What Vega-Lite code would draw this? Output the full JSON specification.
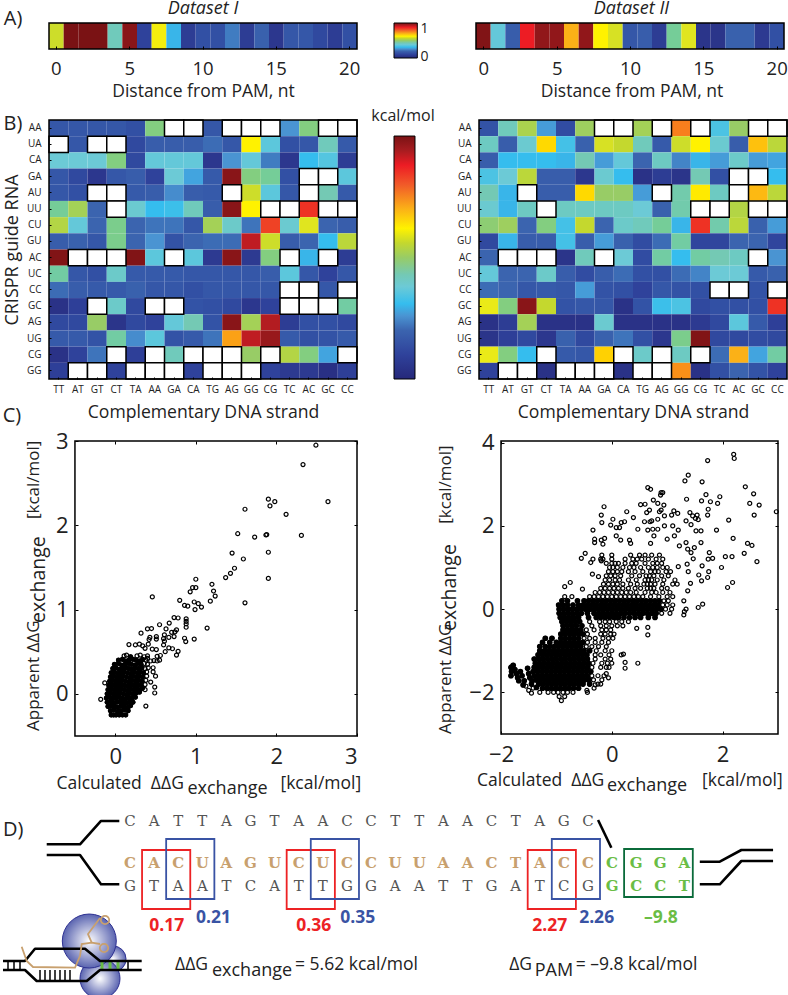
{"$schema":"https://vega.github.io/schema/vega-lite/v6.json","padding":{"left":0,"top":0,"right":0,"bottom":0},"background":"white","config":{"view":{"stroke":null},"axis":{"domain":false,"grid":false,"labelFont":"Open Sans","titleFont":"Open Sans","titleFontWeight":"normal","labelColor":"#222","titleColor":"#222","tickColor":"black"},"text":{"font":"Open Sans","fill":"#222"}},
"columns":6,"bounds":"flush","spacing":{"row":62,"column":0},"resolve":{"scale":{"color":"independent"}},
"datasets":{
"h1":[{"r":"AA","c":"TT","v":-0.2},{"r":"AA","c":"AT","v":-0.2},{"r":"AA","c":"GT","v":-0.2},{"r":"AA","c":"CT","v":-0.2},{"r":"AA","c":"TA","v":-0.3},{"r":"AA","c":"AA","v":1.4},{"r":"AA","c":"GA","v":null},{"r":"AA","c":"CA","v":null},{"r":"AA","c":"TG","v":-0.2},{"r":"AA","c":"AG","v":null},{"r":"AA","c":"GG","v":null},{"r":"AA","c":"CG","v":null},{"r":"AA","c":"TC","v":0.3},{"r":"AA","c":"AC","v":1.4},{"r":"AA","c":"GC","v":null},{"r":"AA","c":"CC","v":null},
{"r":"UA","c":"TT","v":null},{"r":"UA","c":"AT","v":-0.2},{"r":"UA","c":"GT","v":null},{"r":"UA","c":"CT","v":null},{"r":"UA","c":"TA","v":-0.4},{"r":"UA","c":"AA","v":-0.1},{"r":"UA","c":"GA","v":-0.1},{"r":"UA","c":"CA","v":-0.1},{"r":"UA","c":"TG","v":0.05},{"r":"UA","c":"AG","v":-0.2},{"r":"UA","c":"GG","v":2.1},{"r":"UA","c":"CG","v":0.8},{"r":"UA","c":"TC","v":-0.3},{"r":"UA","c":"AC","v":-0.2},{"r":"UA","c":"GC","v":1.1},{"r":"UA","c":"CC","v":-0.15},
{"r":"CA","c":"TT","v":0.9},{"r":"CA","c":"AT","v":0.9},{"r":"CA","c":"GT","v":0.9},{"r":"CA","c":"CT","v":1.4},{"r":"CA","c":"TA","v":-0.4},{"r":"CA","c":"AA","v":0.85},{"r":"CA","c":"GA","v":0.85},{"r":"CA","c":"CA","v":0.85},{"r":"CA","c":"TG","v":-0.7},{"r":"CA","c":"AG","v":0.3},{"r":"CA","c":"GG","v":0.85},{"r":"CA","c":"CG","v":0.15},{"r":"CA","c":"TC","v":-0.7},{"r":"CA","c":"AC","v":0.55},{"r":"CA","c":"GC","v":0.75},{"r":"CA","c":"CC","v":-0.6},
{"r":"GA","c":"TT","v":-0.2},{"r":"GA","c":"AT","v":-0.4},{"r":"GA","c":"GT","v":-0.7},{"r":"GA","c":"CT","v":-0.2},{"r":"GA","c":"TA","v":-0.1},{"r":"GA","c":"AA","v":-0.5},{"r":"GA","c":"GA","v":0.9},{"r":"GA","c":"CA","v":0.4},{"r":"GA","c":"TG","v":-0.15},{"r":"GA","c":"AG","v":3.9},{"r":"GA","c":"GG","v":1.4},{"r":"GA","c":"CG","v":1.3},{"r":"GA","c":"TC","v":-0.3},{"r":"GA","c":"AC","v":null},{"r":"GA","c":"GC","v":null},{"r":"GA","c":"CC","v":0.8},
{"r":"AU","c":"TT","v":-0.2},{"r":"AU","c":"AT","v":-0.3},{"r":"AU","c":"GT","v":null},{"r":"AU","c":"CT","v":null},{"r":"AU","c":"TA","v":-0.15},{"r":"AU","c":"AA","v":-0.1},{"r":"AU","c":"GA","v":0.25},{"r":"AU","c":"CA","v":-0.1},{"r":"AU","c":"TG","v":-0.15},{"r":"AU","c":"AG","v":null},{"r":"AU","c":"GG","v":1.85},{"r":"AU","c":"CG","v":0.8},{"r":"AU","c":"TC","v":-0.2},{"r":"AU","c":"AC","v":null},{"r":"AU","c":"GC","v":1.15},{"r":"AU","c":"CC","v":-0.15},
{"r":"UU","c":"TT","v":1.3},{"r":"UU","c":"AT","v":1.6},{"r":"UU","c":"GT","v":0},{"r":"UU","c":"CT","v":null},{"r":"UU","c":"TA","v":0.95},{"r":"UU","c":"AA","v":0.55},{"r":"UU","c":"GA","v":0.6},{"r":"UU","c":"CA","v":1.1},{"r":"UU","c":"TG","v":-0.1},{"r":"UU","c":"AG","v":3.9},{"r":"UU","c":"GG","v":2.1},{"r":"UU","c":"CG","v":null},{"r":"UU","c":"TC","v":null},{"r":"UU","c":"AC","v":3.3},{"r":"UU","c":"GC","v":null},{"r":"UU","c":"CC","v":null},
{"r":"CU","c":"TT","v":1.7},{"r":"CU","c":"AT","v":0.85},{"r":"CU","c":"GT","v":0},{"r":"CU","c":"CT","v":1.35},{"r":"CU","c":"TA","v":0},{"r":"CU","c":"AA","v":0.1},{"r":"CU","c":"GA","v":0.1},{"r":"CU","c":"CA","v":-0.2},{"r":"CU","c":"TG","v":1.6},{"r":"CU","c":"AG","v":1.0},{"r":"CU","c":"GG","v":0.1},{"r":"CU","c":"CG","v":3.2},{"r":"CU","c":"TC","v":0.95},{"r":"CU","c":"AC","v":1.95},{"r":"CU","c":"GC","v":0},{"r":"CU","c":"CC","v":-0.1},
{"r":"GU","c":"TT","v":-0.1},{"r":"GU","c":"AT","v":-0.05},{"r":"GU","c":"GT","v":-0.2},{"r":"GU","c":"CT","v":1.35},{"r":"GU","c":"TA","v":0},{"r":"GU","c":"AA","v":0.3},{"r":"GU","c":"GA","v":-0.25},{"r":"GU","c":"CA","v":0},{"r":"GU","c":"TG","v":0.05},{"r":"GU","c":"AG","v":0.05},{"r":"GU","c":"GG","v":3.6},{"r":"GU","c":"CG","v":1.85},{"r":"GU","c":"TC","v":-0.1},{"r":"GU","c":"AC","v":0},{"r":"GU","c":"GC","v":0.55},{"r":"GU","c":"CC","v":1.75},
{"r":"AC","c":"TT","v":3.95},{"r":"AC","c":"AT","v":null},{"r":"AC","c":"GT","v":null},{"r":"AC","c":"CT","v":null},{"r":"AC","c":"TA","v":3.95},{"r":"AC","c":"AA","v":0.8},{"r":"AC","c":"GA","v":null},{"r":"AC","c":"CA","v":0.8},{"r":"AC","c":"TG","v":-0.65},{"r":"AC","c":"AG","v":3.9},{"r":"AC","c":"GG","v":-0.65},{"r":"AC","c":"CG","v":1.4},{"r":"AC","c":"TC","v":null},{"r":"AC","c":"AC","v":0.5},{"r":"AC","c":"GC","v":null},{"r":"AC","c":"CC","v":-0.6},
{"r":"UC","c":"TT","v":1.25},{"r":"UC","c":"AT","v":-0.2},{"r":"UC","c":"GT","v":-0.3},{"r":"UC","c":"CT","v":1.0},{"r":"UC","c":"TA","v":-0.15},{"r":"UC","c":"AA","v":-0.15},{"r":"UC","c":"GA","v":-0.15},{"r":"UC","c":"CA","v":-0.2},{"r":"UC","c":"TG","v":-0.2},{"r":"UC","c":"AG","v":-0.2},{"r":"UC","c":"GG","v":-0.2},{"r":"UC","c":"CG","v":-0.1},{"r":"UC","c":"TC","v":0.8},{"r":"UC","c":"AC","v":-0.2},{"r":"UC","c":"GC","v":-0.5},{"r":"UC","c":"CC","v":-0.2},
{"r":"CC","c":"TT","v":0.05},{"r":"CC","c":"AT","v":-0.1},{"r":"CC","c":"GT","v":-0.15},{"r":"CC","c":"CT","v":-0.15},{"r":"CC","c":"TA","v":-0.05},{"r":"CC","c":"AA","v":-0.2},{"r":"CC","c":"GA","v":-0.2},{"r":"CC","c":"CA","v":-0.3},{"r":"CC","c":"TG","v":-0.2},{"r":"CC","c":"AG","v":-0.2},{"r":"CC","c":"GG","v":-0.2},{"r":"CC","c":"CG","v":-0.2},{"r":"CC","c":"TC","v":null},{"r":"CC","c":"AC","v":null},{"r":"CC","c":"GC","v":-0.2},{"r":"CC","c":"CC","v":null},
{"r":"GC","c":"TT","v":-0.8},{"r":"GC","c":"AT","v":-0.55},{"r":"GC","c":"GT","v":null},{"r":"GC","c":"CT","v":1.0},{"r":"GC","c":"TA","v":-0.4},{"r":"GC","c":"AA","v":null},{"r":"GC","c":"GA","v":null},{"r":"GC","c":"CA","v":-0.25},{"r":"GC","c":"TG","v":-0.3},{"r":"GC","c":"AG","v":-0.4},{"r":"GC","c":"GG","v":-0.7},{"r":"GC","c":"CG","v":-0.5},{"r":"GC","c":"TC","v":null},{"r":"GC","c":"AC","v":null},{"r":"GC","c":"GC","v":null},{"r":"GC","c":"CC","v":1.25},
{"r":"AG","c":"TT","v":-0.4},{"r":"AG","c":"AT","v":-0.4},{"r":"AG","c":"GT","v":1.5},{"r":"AG","c":"CT","v":-0.75},{"r":"AG","c":"TA","v":-0.4},{"r":"AG","c":"AA","v":-0.5},{"r":"AG","c":"GA","v":0.85},{"r":"AG","c":"CA","v":1.15},{"r":"AG","c":"TG","v":-0.25},{"r":"AG","c":"AG","v":3.9},{"r":"AG","c":"GG","v":1.6},{"r":"AG","c":"CG","v":3.65},{"r":"AG","c":"TC","v":-0.6},{"r":"AG","c":"AC","v":-0.3},{"r":"AG","c":"GC","v":-0.3},{"r":"AG","c":"CC","v":-0.4},
{"r":"UG","c":"TT","v":-0.15},{"r":"UG","c":"AT","v":-0.15},{"r":"UG","c":"GT","v":-0.25},{"r":"UG","c":"CT","v":1.25},{"r":"UG","c":"TA","v":0.25},{"r":"UG","c":"AA","v":0.8},{"r":"UG","c":"GA","v":-0.25},{"r":"UG","c":"CA","v":-0.15},{"r":"UG","c":"TG","v":0.1},{"r":"UG","c":"AG","v":2.6},{"r":"UG","c":"GG","v":3.6},{"r":"UG","c":"CG","v":3.8},{"r":"UG","c":"TC","v":-0.15},{"r":"UG","c":"AC","v":-0.3},{"r":"UG","c":"GC","v":-0.25},{"r":"UG","c":"CC","v":-0.15},
{"r":"CG","c":"TT","v":-0.8},{"r":"CG","c":"AT","v":-0.5},{"r":"CG","c":"GT","v":0.1},{"r":"CG","c":"CT","v":null},{"r":"CG","c":"TA","v":-0.55},{"r":"CG","c":"AA","v":null},{"r":"CG","c":"GA","v":1.1},{"r":"CG","c":"CA","v":null},{"r":"CG","c":"TG","v":null},{"r":"CG","c":"AG","v":null},{"r":"CG","c":"GG","v":1.5},{"r":"CG","c":"CG","v":null},{"r":"CG","c":"TC","v":1.7},{"r":"CG","c":"AC","v":1.4},{"r":"CG","c":"GC","v":0.4},{"r":"CG","c":"CC","v":null},
{"r":"GG","c":"TT","v":-0.55},{"r":"GG","c":"AT","v":null},{"r":"GG","c":"GT","v":null},{"r":"GG","c":"CT","v":-0.5},{"r":"GG","c":"TA","v":null},{"r":"GG","c":"AA","v":null},{"r":"GG","c":"GA","v":null},{"r":"GG","c":"CA","v":-0.5},{"r":"GG","c":"TG","v":null},{"r":"GG","c":"AG","v":null},{"r":"GG","c":"GG","v":null},{"r":"GG","c":"CG","v":-0.5},{"r":"GG","c":"TC","v":-0.65},{"r":"GG","c":"AC","v":-0.65},{"r":"GG","c":"GC","v":-0.85},{"r":"GG","c":"CC","v":-0.55}],
"h2":[{"r":"AA","c":"TT","v":-0.25},{"r":"AA","c":"AT","v":1.1},{"r":"AA","c":"GT","v":1.65},{"r":"AA","c":"CT","v":0.35},{"r":"AA","c":"TA","v":-0.35},{"r":"AA","c":"AA","v":1.55},{"r":"AA","c":"GA","v":null},{"r":"AA","c":"CA","v":null},{"r":"AA","c":"TG","v":1.6},{"r":"AA","c":"AG","v":null},{"r":"AA","c":"GG","v":2.8},{"r":"AA","c":"CG","v":null},{"r":"AA","c":"TC","v":0.7},{"r":"AA","c":"AC","v":1.5},{"r":"AA","c":"GC","v":null},{"r":"AA","c":"CC","v":null},
{"r":"UA","c":"TT","v":1.05},{"r":"UA","c":"AT","v":-0.1},{"r":"UA","c":"GT","v":0.95},{"r":"UA","c":"CT","v":2.25},{"r":"UA","c":"TA","v":0.65},{"r":"UA","c":"AA","v":-0.05},{"r":"UA","c":"GA","v":1.9},{"r":"UA","c":"CA","v":1.8},{"r":"UA","c":"TG","v":1.1},{"r":"UA","c":"AG","v":-0.15},{"r":"UA","c":"GG","v":1.85},{"r":"UA","c":"CG","v":2.1},{"r":"UA","c":"TC","v":0.95},{"r":"UA","c":"AC","v":-0.1},{"r":"UA","c":"GC","v":2.4},{"r":"UA","c":"CC","v":1.75},
{"r":"CA","c":"TT","v":-0.1},{"r":"CA","c":"AT","v":0.55},{"r":"CA","c":"GT","v":0.55},{"r":"CA","c":"CT","v":0.55},{"r":"CA","c":"TA","v":0.5},{"r":"CA","c":"AA","v":1.15},{"r":"CA","c":"GA","v":0.35},{"r":"CA","c":"CA","v":0.85},{"r":"CA","c":"TG","v":0},{"r":"CA","c":"AG","v":1.05},{"r":"CA","c":"GG","v":0.2},{"r":"CA","c":"CG","v":0.5},{"r":"CA","c":"TC","v":0.35},{"r":"CA","c":"AC","v":1.0},{"r":"CA","c":"GC","v":0.35},{"r":"CA","c":"CC","v":0.4},
{"r":"GA","c":"TT","v":0.7},{"r":"GA","c":"AT","v":0.9},{"r":"GA","c":"GT","v":1.75},{"r":"GA","c":"CT","v":-0.1},{"r":"GA","c":"TA","v":-0.1},{"r":"GA","c":"AA","v":-0.7},{"r":"GA","c":"GA","v":0.95},{"r":"GA","c":"CA","v":0.55},{"r":"GA","c":"TG","v":-0.8},{"r":"GA","c":"AG","v":-0.6},{"r":"GA","c":"GG","v":-0.75},{"r":"GA","c":"CG","v":1.15},{"r":"GA","c":"TC","v":-0.3},{"r":"GA","c":"AC","v":null},{"r":"GA","c":"GC","v":null},{"r":"GA","c":"CC","v":0.55},
{"r":"AU","c":"TT","v":1.15},{"r":"AU","c":"AT","v":0.5},{"r":"AU","c":"GT","v":null},{"r":"AU","c":"CT","v":-0.1},{"r":"AU","c":"TA","v":-0.1},{"r":"AU","c":"AA","v":2.25},{"r":"AU","c":"GA","v":1.5},{"r":"AU","c":"CA","v":1.5},{"r":"AU","c":"TG","v":0.35},{"r":"AU","c":"AG","v":null},{"r":"AU","c":"GG","v":1.2},{"r":"AU","c":"CG","v":2.15},{"r":"AU","c":"TC","v":1.05},{"r":"AU","c":"AC","v":null},{"r":"AU","c":"GC","v":2.45},{"r":"AU","c":"CC","v":1.75},
{"r":"UU","c":"TT","v":0.95},{"r":"UU","c":"AT","v":0.5},{"r":"UU","c":"GT","v":1.05},{"r":"UU","c":"CT","v":null},{"r":"UU","c":"TA","v":1.05},{"r":"UU","c":"AA","v":1.05},{"r":"UU","c":"GA","v":1.05},{"r":"UU","c":"CA","v":1.05},{"r":"UU","c":"TG","v":0.9},{"r":"UU","c":"AG","v":-0.05},{"r":"UU","c":"GG","v":1.2},{"r":"UU","c":"CG","v":null},{"r":"UU","c":"TC","v":null},{"r":"UU","c":"AC","v":1.7},{"r":"UU","c":"GC","v":null},{"r":"UU","c":"CC","v":null},
{"r":"CU","c":"TT","v":1.45},{"r":"CU","c":"AT","v":1.55},{"r":"CU","c":"GT","v":0},{"r":"CU","c":"CT","v":1.4},{"r":"CU","c":"TA","v":0.65},{"r":"CU","c":"AA","v":1.8},{"r":"CU","c":"GA","v":0},{"r":"CU","c":"CA","v":1.0},{"r":"CU","c":"TG","v":1.1},{"r":"CU","c":"AG","v":1.3},{"r":"CU","c":"GG","v":0.5},{"r":"CU","c":"CG","v":3.3},{"r":"CU","c":"TC","v":1.2},{"r":"CU","c":"AC","v":1.75},{"r":"CU","c":"GC","v":-0.05},{"r":"CU","c":"CC","v":0.35},
{"r":"GU","c":"TT","v":-0.4},{"r":"GU","c":"AT","v":0.5},{"r":"GU","c":"GT","v":-0.1},{"r":"GU","c":"CT","v":-0.1},{"r":"GU","c":"TA","v":0.65},{"r":"GU","c":"AA","v":-0.1},{"r":"GU","c":"GA","v":0.35},{"r":"GU","c":"CA","v":-0.05},{"r":"GU","c":"TG","v":-0.35},{"r":"GU","c":"AG","v":0.05},{"r":"GU","c":"GG","v":1.25},{"r":"GU","c":"CG","v":-0.45},{"r":"GU","c":"TC","v":-0.45},{"r":"GU","c":"AC","v":0},{"r":"GU","c":"GC","v":0},{"r":"GU","c":"CC","v":-0.45},
{"r":"AC","c":"TT","v":0},{"r":"AC","c":"AT","v":null},{"r":"AC","c":"GT","v":null},{"r":"AC","c":"CT","v":null},{"r":"AC","c":"TA","v":-0.75},{"r":"AC","c":"AA","v":1.1},{"r":"AC","c":"GA","v":null},{"r":"AC","c":"CA","v":0.9},{"r":"AC","c":"TG","v":-0.35},{"r":"AC","c":"AG","v":1.25},{"r":"AC","c":"GG","v":0.55},{"r":"AC","c":"CG","v":1.25},{"r":"AC","c":"TC","v":1.15},{"r":"AC","c":"AC","v":1.05},{"r":"AC","c":"GC","v":null},{"r":"AC","c":"CC","v":0.3},
{"r":"UC","c":"TT","v":0.85},{"r":"UC","c":"AT","v":0},{"r":"UC","c":"GT","v":0},{"r":"UC","c":"CT","v":1.0},{"r":"UC","c":"TA","v":-0.1},{"r":"UC","c":"AA","v":-0.35},{"r":"UC","c":"GA","v":-0.1},{"r":"UC","c":"CA","v":0.05},{"r":"UC","c":"TG","v":-0.3},{"r":"UC","c":"AG","v":-0.3},{"r":"UC","c":"GG","v":0.05},{"r":"UC","c":"CG","v":0.2},{"r":"UC","c":"TC","v":0.9},{"r":"UC","c":"AC","v":0.9},{"r":"UC","c":"GC","v":-0.15},{"r":"UC","c":"CC","v":-0.05},
{"r":"CC","c":"TT","v":0.05},{"r":"CC","c":"AT","v":0},{"r":"CC","c":"GT","v":-0.2},{"r":"CC","c":"CT","v":-0.15},{"r":"CC","c":"TA","v":-0.2},{"r":"CC","c":"AA","v":0.35},{"r":"CC","c":"GA","v":-0.25},{"r":"CC","c":"CA","v":-0.3},{"r":"CC","c":"TG","v":-0.5},{"r":"CC","c":"AG","v":-0.2},{"r":"CC","c":"GG","v":-0.25},{"r":"CC","c":"CG","v":-0.3},{"r":"CC","c":"TC","v":null},{"r":"CC","c":"AC","v":null},{"r":"CC","c":"GC","v":-0.25},{"r":"CC","c":"CC","v":null},
{"r":"GC","c":"TT","v":2.0},{"r":"GC","c":"AT","v":1.4},{"r":"GC","c":"GT","v":3.9},{"r":"GC","c":"CT","v":1.8},{"r":"GC","c":"TA","v":-0.25},{"r":"GC","c":"AA","v":-0.2},{"r":"GC","c":"GA","v":-0.2},{"r":"GC","c":"CA","v":-0.8},{"r":"GC","c":"TG","v":-0.25},{"r":"GC","c":"AG","v":0.6},{"r":"GC","c":"GG","v":0.7},{"r":"GC","c":"CG","v":-0.4},{"r":"GC","c":"TC","v":-0.3},{"r":"GC","c":"AC","v":-0.3},{"r":"GC","c":"GC","v":-0.3},{"r":"GC","c":"CC","v":3.3},
{"r":"AG","c":"TT","v":-0.8},{"r":"AG","c":"AT","v":-0.6},{"r":"AG","c":"GT","v":1.6},{"r":"AG","c":"CT","v":-0.8},{"r":"AG","c":"TA","v":-0.8},{"r":"AG","c":"AA","v":-0.8},{"r":"AG","c":"GA","v":0.95},{"r":"AG","c":"CA","v":-0.8},{"r":"AG","c":"TG","v":-0.8},{"r":"AG","c":"AG","v":-0.8},{"r":"AG","c":"GG","v":-0.8},{"r":"AG","c":"CG","v":-0.65},{"r":"AG","c":"TC","v":-0.4},{"r":"AG","c":"AC","v":0.8},{"r":"AG","c":"GC","v":-0.15},{"r":"AG","c":"CC","v":-0.55},
{"r":"UG","c":"TT","v":-0.75},{"r":"UG","c":"AT","v":-0.55},{"r":"UG","c":"GT","v":-0.4},{"r":"UG","c":"CT","v":-0.7},{"r":"UG","c":"TA","v":-0.05},{"r":"UG","c":"AA","v":-0.4},{"r":"UG","c":"GA","v":-0.05},{"r":"UG","c":"CA","v":0.1},{"r":"UG","c":"TG","v":-0.3},{"r":"UG","c":"AG","v":-0.7},{"r":"UG","c":"GG","v":1.35},{"r":"UG","c":"CG","v":3.95},{"r":"UG","c":"TC","v":-0.4},{"r":"UG","c":"AC","v":-0.4},{"r":"UG","c":"GC","v":-0.35},{"r":"UG","c":"CC","v":-0.4},
{"r":"CG","c":"TT","v":2.0},{"r":"CG","c":"AT","v":1.4},{"r":"CG","c":"GT","v":0.55},{"r":"CG","c":"CT","v":null},{"r":"CG","c":"TA","v":-0.15},{"r":"CG","c":"AA","v":-0.2},{"r":"CG","c":"GA","v":2.3},{"r":"CG","c":"CA","v":null},{"r":"CG","c":"TG","v":1.0},{"r":"CG","c":"AG","v":null},{"r":"CG","c":"GG","v":1.05},{"r":"CG","c":"CG","v":null},{"r":"CG","c":"TC","v":0.05},{"r":"CG","c":"AC","v":2.5},{"r":"CG","c":"GC","v":0.4},{"r":"CG","c":"CC","v":1.25},
{"r":"GG","c":"TT","v":-0.5},{"r":"GG","c":"AT","v":null},{"r":"GG","c":"GT","v":null},{"r":"GG","c":"CT","v":-0.8},{"r":"GG","c":"TA","v":null},{"r":"GG","c":"AA","v":null},{"r":"GG","c":"GA","v":null},{"r":"GG","c":"CA","v":-0.8},{"r":"GG","c":"TG","v":null},{"r":"GG","c":"AG","v":null},{"r":"GG","c":"GG","v":2.7},{"r":"GG","c":"CG","v":-0.8},{"r":"GG","c":"TC","v":-0.3},{"r":"GG","c":"AC","v":0},{"r":"GG","c":"GC","v":-0.25},{"r":"GG","c":"CC","v":-0.5}],
"s1":[{"x":2.49,"y":2.95},{"x":2.33,"y":2.72},{"x":2.64,"y":2.28},{"x":1.9,"y":2.31},{"x":1.98,"y":2.28},{"x":1.92,"y":2.23},{"x":2.12,"y":2.13},{"x":1.61,"y":2.19},{"x":1.52,"y":1.9},{"x":1.73,"y":1.86},{"x":1.87,"y":1.885},{"x":1.88,"y":1.89},{"x":2.31,"y":1.88},{"x":1.9,"y":1.68},{"x":1.45,"y":1.67},{"x":1.59,"y":1.6},{"x":1.48,"y":1.49},{"x":1.43,"y":1.43},{"x":1.37,"y":1.38},{"x":1.9,"y":1.37},{"x":1.61,"y":1.08},{"x":1,"y":1.36},{"x":1.2,"y":1.3},{"x":1,"y":1.26},{"x":0.96,"y":1.26},{"x":0.93,"y":1.21},{"x":1.22,"y":1.22},{"x":1.24,"y":1.16},{"x":0.46,"y":1.15},{"x":0.8,"y":1.11},{"x":1.18,"y":1.1},{"x":0.98,"y":1.09},{"x":1.03,"y":1.07},{"x":0.86,"y":1.05},{"x":0.9,"y":1.04},{"x":1.07,"y":1.03},{"x":0.99,"y":1},{"x":0.73,"y":0.905},{"x":0.78,"y":0.9},{"x":0.88,"y":0.89},{"x":0.88,"y":0.86},{"x":0.88,"y":0.83},{"x":0.88,"y":0.79},{"x":0.67,"y":0.84},{"x":0.55,"y":0.82},{"x":1.14,"y":0.78},{"x":0.4,"y":0.77},{"x":0.45,"y":0.775},{"x":0.63,"y":0.77},{"x":0.76,"y":0.76},{"x":0.74,"y":0.735},{"x":0.7,"y":0.73},{"x":0.32,"y":0.72},{"x":0.61,"y":0.7},{"x":0.43,"y":0.67},{"x":0.51,"y":0.68},{"x":0.51,"y":0.65},{"x":0.73,"y":0.68},{"x":0.665,"y":0.67},{"x":0.6,"y":0.655},{"x":0.86,"y":0.66},{"x":0.98,"y":0.65},{"x":0.875,"y":0.62},{"x":0.17,"y":0.585},{"x":0.25,"y":0.58},{"x":0.3,"y":0.59},{"x":0.34,"y":0.57},{"x":0.37,"y":0.54},{"x":0.41,"y":0.59},{"x":0.46,"y":0.53},{"x":0.51,"y":0.525},{"x":0.61,"y":0.625},{"x":0.6,"y":0.58},{"x":0.665,"y":0.545},{"x":0.71,"y":0.535},{"x":0.78,"y":0.505},{"x":0.76,"y":0.46},{"x":0.62,"y":0.5},{"x":0.42,"y":0.645},{"x":0.56,"y":0.455},{"x":0.52,"y":0.445},{"x":0.48,"y":0.395},{"x":0.44,"y":0.39},{"x":0.55,"y":0.4},{"x":0.52,"y":0.39},{"x":0.47,"y":0.31},{"x":0.47,"y":0.26},{"x":0.5,"y":0.21},{"x":0.44,"y":0.14},{"x":0.49,"y":0.08},{"x":0.49,"y":0.01},{"x":0.38,"y":-0.145},{"x":0.37,"y":0.05},{"x":-0.18,"y":-0.065},{"x":-0.13,"y":0.13},
{"x":-0.05,"y":-0.25},{"x":-0.02,"y":-0.25},{"x":0.01,"y":-0.25},{"x":0.05,"y":-0.25},{"x":0.09,"y":-0.25},{"x":0.13,"y":-0.25},{"x":-0.06,"y":-0.2},{"x":-0.02,"y":-0.19},{"x":0.03,"y":-0.21},{"x":0.07,"y":-0.2},{"x":0.11,"y":-0.19},{"x":0.16,"y":-0.2},{"x":-0.09,"y":-0.15},{"x":-0.05,"y":-0.14},{"x":-0.01,"y":-0.15},{"x":0.03,"y":-0.16},{"x":0.07,"y":-0.14},{"x":0.11,"y":-0.15},{"x":0.16,"y":-0.16},{"x":0.19,"y":-0.14},{"x":-0.1,"y":-0.1},{"x":-0.06,"y":-0.09},{"x":-0.02,"y":-0.11},{"x":0.02,"y":-0.1},{"x":0.06,"y":-0.09},{"x":0.1,"y":-0.1},{"x":0.14,"y":-0.11},{"x":0.18,"y":-0.09},{"x":0.22,"y":-0.1},{"x":-0.11,"y":-0.05},{"x":-0.07,"y":-0.04},{"x":-0.03,"y":-0.06},{"x":0.01,"y":-0.05},{"x":0.05,"y":-0.04},{"x":0.09,"y":-0.05},{"x":0.13,"y":-0.06},{"x":0.17,"y":-0.04},{"x":0.21,"y":-0.05},{"x":0.25,"y":-0.04},{"x":-0.1,"y":0},{"x":-0.06,"y":0.01},{"x":-0.02,"y":-0.01},{"x":0.02,"y":0},{"x":0.06,"y":0.01},{"x":0.1,"y":0},{"x":0.14,"y":-0.01},{"x":0.18,"y":0.01},{"x":0.22,"y":0},{"x":0.26,"y":0.01},{"x":0.3,"y":0.02},{"x":-0.09,"y":0.05},{"x":-0.05,"y":0.06},{"x":-0.01,"y":0.04},{"x":0.03,"y":0.05},{"x":0.07,"y":0.06},{"x":0.11,"y":0.05},{"x":0.15,"y":0.04},{"x":0.19,"y":0.06},{"x":0.23,"y":0.05},{"x":0.27,"y":0.06},{"x":0.31,"y":0.05},{"x":0.34,"y":0.07},{"x":-0.08,"y":0.1},{"x":-0.04,"y":0.11},{"x":0,"y":0.09},{"x":0.04,"y":0.1},{"x":0.08,"y":0.11},{"x":0.12,"y":0.1},{"x":0.16,"y":0.09},{"x":0.2,"y":0.11},{"x":0.24,"y":0.1},{"x":0.28,"y":0.11},{"x":0.32,"y":0.1},{"x":0.37,"y":0.11},{"x":-0.07,"y":0.15},{"x":-0.03,"y":0.16},{"x":0.01,"y":0.14},{"x":0.05,"y":0.15},{"x":0.09,"y":0.16},{"x":0.13,"y":0.15},{"x":0.17,"y":0.14},{"x":0.21,"y":0.16},{"x":0.25,"y":0.15},{"x":0.29,"y":0.16},{"x":0.33,"y":0.15},{"x":0.38,"y":0.16},{"x":-0.06,"y":0.2},{"x":-0.02,"y":0.21},{"x":0.02,"y":0.19},{"x":0.06,"y":0.2},{"x":0.1,"y":0.21},{"x":0.14,"y":0.2},{"x":0.18,"y":0.19},{"x":0.22,"y":0.21},{"x":0.26,"y":0.2},{"x":0.3,"y":0.21},{"x":0.34,"y":0.2},{"x":0.39,"y":0.21},{"x":-0.05,"y":0.25},{"x":-0.01,"y":0.26},{"x":0.03,"y":0.24},{"x":0.07,"y":0.25},{"x":0.11,"y":0.26},{"x":0.15,"y":0.25},{"x":0.19,"y":0.24},{"x":0.23,"y":0.26},{"x":0.27,"y":0.25},{"x":0.31,"y":0.26},{"x":0.35,"y":0.25},{"x":0.39,"y":0.26},{"x":-0.03,"y":0.3},{"x":0.01,"y":0.31},{"x":0.05,"y":0.29},{"x":0.09,"y":0.3},{"x":0.13,"y":0.31},{"x":0.17,"y":0.3},{"x":0.21,"y":0.29},{"x":0.25,"y":0.31},{"x":0.29,"y":0.3},{"x":0.33,"y":0.31},{"x":0.37,"y":0.3},{"x":0.41,"y":0.31},{"x":-0.01,"y":0.35},{"x":0.04,"y":0.36},{"x":0.08,"y":0.34},{"x":0.12,"y":0.35},{"x":0.16,"y":0.36},{"x":0.2,"y":0.35},{"x":0.24,"y":0.34},{"x":0.28,"y":0.36},{"x":0.32,"y":0.35},{"x":0.36,"y":0.36},{"x":0.4,"y":0.35},{"x":0.04,"y":0.4},{"x":0.09,"y":0.41},{"x":0.13,"y":0.39},{"x":0.17,"y":0.4},{"x":0.22,"y":0.41},{"x":0.26,"y":0.4},{"x":0.3,"y":0.39},{"x":0.34,"y":0.41},{"x":0.38,"y":0.4},{"x":0.4,"y":0.42},{"x":0.11,"y":0.45},{"x":0.14,"y":0.46},{"x":0.19,"y":0.44},{"x":0.27,"y":0.45},{"x":0.31,"y":0.46},{"x":0.36,"y":0.44},{"x":0.4,"y":0.45}],
"s2":[{"x":2.2,"y":3.72},{"x":2.21,"y":3.62},{"x":1.73,"y":3.57},{"x":1.38,"y":3.22},{"x":1.32,"y":3.08},{"x":1.63,"y":3.06},{"x":0.65,"y":2.92},{"x":0.7,"y":2.88},{"x":2.41,"y":2.94},{"x":2.56,"y":2.77},{"x":1.7,"y":2.75},{"x":1.95,"y":2.7},{"x":0.89,"y":2.8},{"x":0.92,"y":2.8},{"x":0.88,"y":2.74},{"x":0.6,"y":2.52},{"x":0.75,"y":2.62},{"x":-0.14,"y":2.46},{"x":-0.19,"y":2.26},{"x":-0.18,"y":2.08},{"x":1.35,"y":2.64},{"x":1.62,"y":2.6},{"x":1.78,"y":2.58},{"x":1.91,"y":2.54},{"x":2.49,"y":2.54},{"x":2.66,"y":2.5},{"x":2.97,"y":2.34},{"x":2.57,"y":2.26},{"x":1.74,"y":2.4},{"x":1.73,"y":2.26},{"x":1.41,"y":2.32},{"x":1.46,"y":2.24},{"x":1.54,"y":2.26},{"x":1.51,"y":2.18},{"x":1.56,"y":2.15},{"x":1.34,"y":2.12},{"x":1.43,"y":2.03},{"x":0.27,"y":2.34},{"x":0.02,"y":2.16},{"x":0.39,"y":2.2},{"x":0.17,"y":2.08},{"x":0.23,"y":2.1},{"x":-0.02,"y":2.02},{"x":0.08,"y":1.96},{"x":0.14,"y":1.96},{"x":0.47,"y":1.92},{"x":-0.34,"y":1.9},{"x":0.59,"y":2.1},{"x":0.69,"y":2.1},{"x":0.52,"y":2.51},{"x":0.68,"y":2.38},{"x":0.63,"y":2.32},{"x":0.86,"y":2.34},{"x":0.94,"y":2.5},{"x":0.83,"y":2.54},{"x":0.89,"y":2.38},{"x":0.95,"y":2.24},{"x":1.08,"y":2.26},{"x":1.19,"y":2.3},{"x":1.12,"y":2.36},{"x":0.83,"y":2.16},{"x":0.72,"y":2.12},{"x":2.11,"y":2.14},{"x":1.89,"y":1.9},{"x":2.19,"y":1.7},{"x":1.52,"y":1.88},{"x":1.61,"y":1.88},{"x":1.1,"y":2},{"x":1.2,"y":1.9},{"x":1.13,"y":1.76},{"x":0.95,"y":2},{"x":0.65,"y":1.9},{"x":0.74,"y":1.92},{"x":0.83,"y":1.92},{"x":0.76,"y":1.76},{"x":0.08,"y":1.76},{"x":0.16,"y":1.66},{"x":-0.31,"y":1.68},{"x":-0.13,"y":1.7},{"x":-0.19,"y":1.66},{"x":-0.31,"y":1.6},{"x":-0.16,"y":1.56},{"x":0.32,"y":1.66},{"x":0.34,"y":1.58},{"x":0.7,"y":1.58},{"x":1,"y":1.68},{"x":1.22,"y":1.52},{"x":1.34,"y":1.6},{"x":1.61,"y":1.6},{"x":1.49,"y":1.48},{"x":1.37,"y":1.44},{"x":1.43,"y":1.36},{"x":1.76,"y":1.36},{"x":2.45,"y":1.58},{"x":2.53,"y":1.53},{"x":2.39,"y":1.34},{"x":2.17,"y":1.26},{"x":2.05,"y":1.26},{"x":2.62,"y":1.14},{"x":1.74,"y":1.2},{"x":1.82,"y":1.22},{"x":1.47,"y":1.21},{"x":1.2,"y":1.02},{"x":1.36,"y":1.08},{"x":1.63,"y":1.04},{"x":1.98,"y":1},{"x":1.38,"y":0.9},{"x":1.75,"y":0.9},{"x":1.73,"y":0.76},{"x":1.57,"y":0.82},{"x":1.62,"y":0.68},{"x":1.42,"y":0.62},{"x":2.09,"y":0.52},{"x":2.18,"y":0.64},{"x":1.37,"y":0.44},{"x":1.3,"y":0.2},{"x":1.64,"y":0.12},{"x":1.56,"y":0.04},{"x":1.34,"y":0},{"x":1.31,"y":-0.06},{"x":1.3,"y":-0.14},{"x":-0.55,"y":1.22},{"x":-0.48,"y":1.34},{"x":-0.34,"y":1.2},{"x":-0.38,"y":1.12},{"x":-0.19,"y":1.16},{"x":-0.35,"y":0.84},{"x":-0.24,"y":0.78},{"x":-0.85,"y":0.54},{"x":-0.75,"y":0.64},{"x":-0.53,"y":0.48},{"x":0.45,"y":-0.46},{"x":0.65,"y":-0.44},{"x":0.65,"y":-0.62},{"x":0.24,"y":-1.28},{"x":0.24,"y":-1.42},{"x":0.47,"y":-1.3},{"x":0.21,"y":-1.08},{"x":0.17,"y":-1.1},
{"x":-1.82,"y":-1.4},{"x":-1.81,"y":-1.5},{"x":-1.82,"y":-1.6},{"x":-1.78,"y":-1.35},{"x":-1.75,"y":-1.45},{"x":-1.72,"y":-1.55},{"x":-1.7,"y":-1.65},{"x":-1.65,"y":-1.5},{"x":-1.62,"y":-1.6},{"x":-1.58,"y":-1.72},{"x":-1.52,"y":-1.42},{"x":-1.5,"y":-1.55},{"x":-1.48,"y":-1.65},{"x":-1.44,"y":-1.72},{"x":-1.55,"y":-1.85},{"x":-1.5,"y":-1.95},{"x":-1.45,"y":-2.02},{"x":-1.36,"y":-1.88},{"x":-1.68,"y":-1.72},{"x":-1.6,"y":-1.82},{"x":-0.91,"y":-2.2},{"x":-0.45,"y":-1.95},{"x":-0.44,"y":-2},{"x":-0.32,"y":-1.9},{"x":-0.3,"y":-1.82},{"x":-0.2,"y":-1.8},{"x":-0.14,"y":-1.6},{"x":-0.1,"y":-1.55},{"x":-0.06,"y":-1.65},{"x":-0.18,"y":-1.7},{"x":-0.25,"y":-1.6},{"x":-0.05,"y":-1.4},{"x":0,"y":-1.3},
{"x":-0.95,"y":-2.1},{"x":-0.85,"y":-2.1},
{"x":-1.3,"y":-2},{"x":-1.15,"y":-2},{"x":-1.05,"y":-2},{"x":-0.97,"y":-2},{"x":-0.88,"y":-2},{"x":-0.8,"y":-2},{"x":-0.7,"y":-2},
{"x":-1.42,"y":-1.9},{"x":-1.25,"y":-1.9},{"x":-1.17,"y":-1.9},{"x":-1.09,"y":-1.9},{"x":-1.01,"y":-1.9},{"x":-0.93,"y":-1.9},{"x":-0.85,"y":-1.9},{"x":-0.77,"y":-1.9},{"x":-0.69,"y":-1.9},{"x":-0.6,"y":-1.9},
{"x":-1.45,"y":-1.8},{"x":-1.32,"y":-1.8},{"x":-1.24,"y":-1.8},{"x":-1.16,"y":-1.8},{"x":-1.08,"y":-1.8},{"x":-1,"y":-1.8},{"x":-0.92,"y":-1.8},{"x":-0.84,"y":-1.8},{"x":-0.76,"y":-1.8},{"x":-0.68,"y":-1.8},{"x":-0.6,"y":-1.8},{"x":-0.52,"y":-1.8},{"x":-0.4,"y":-1.8},{"x":-0.25,"y":-1.8},
{"x":-1.37,"y":-1.7},{"x":-1.29,"y":-1.7},{"x":-1.21,"y":-1.7},{"x":-1.13,"y":-1.7},{"x":-1.05,"y":-1.7},{"x":-0.97,"y":-1.7},{"x":-0.89,"y":-1.7},{"x":-0.81,"y":-1.7},{"x":-0.73,"y":-1.7},{"x":-0.65,"y":-1.7},{"x":-0.57,"y":-1.7},{"x":-0.49,"y":-1.7},{"x":-0.41,"y":-1.7},{"x":-0.33,"y":-1.7},
{"x":-1.4,"y":-1.6},{"x":-1.32,"y":-1.6},{"x":-1.24,"y":-1.6},{"x":-1.16,"y":-1.6},{"x":-1.08,"y":-1.6},{"x":-1,"y":-1.6},{"x":-0.92,"y":-1.6},{"x":-0.84,"y":-1.6},{"x":-0.76,"y":-1.6},{"x":-0.68,"y":-1.6},{"x":-0.6,"y":-1.6},{"x":-0.52,"y":-1.6},{"x":-0.44,"y":-1.6},{"x":-0.36,"y":-1.6},
{"x":-1.42,"y":-1.5},{"x":-1.34,"y":-1.5},{"x":-1.26,"y":-1.5},{"x":-1.18,"y":-1.5},{"x":-1.1,"y":-1.5},{"x":-1.02,"y":-1.5},{"x":-0.94,"y":-1.5},{"x":-0.86,"y":-1.5},{"x":-0.78,"y":-1.5},{"x":-0.7,"y":-1.5},{"x":-0.62,"y":-1.5},{"x":-0.54,"y":-1.5},{"x":-0.46,"y":-1.5},{"x":-0.38,"y":-1.5},
{"x":-1.4,"y":-1.4},{"x":-1.32,"y":-1.4},{"x":-1.24,"y":-1.4},{"x":-1.16,"y":-1.4},{"x":-1.08,"y":-1.4},{"x":-1,"y":-1.4},{"x":-0.92,"y":-1.4},{"x":-0.84,"y":-1.4},{"x":-0.76,"y":-1.4},{"x":-0.68,"y":-1.4},{"x":-0.6,"y":-1.4},{"x":-0.52,"y":-1.4},{"x":-0.44,"y":-1.4},{"x":-0.36,"y":-1.4},{"x":-0.2,"y":-1.4},{"x":-0.1,"y":-1.4},
{"x":-1.38,"y":-1.3},{"x":-1.3,"y":-1.3},{"x":-1.22,"y":-1.3},{"x":-1.14,"y":-1.3},{"x":-1.06,"y":-1.3},{"x":-0.98,"y":-1.3},{"x":-0.9,"y":-1.3},{"x":-0.82,"y":-1.3},{"x":-0.74,"y":-1.3},{"x":-0.66,"y":-1.3},{"x":-0.58,"y":-1.3},{"x":-0.5,"y":-1.3},{"x":-0.42,"y":-1.3},{"x":-0.34,"y":-1.3},{"x":-0.18,"y":-1.3},{"x":-0.08,"y":-1.3},
{"x":-1.4,"y":-1.2},{"x":-1.32,"y":-1.2},{"x":-1.24,"y":-1.2},{"x":-1.16,"y":-1.2},{"x":-1.08,"y":-1.2},{"x":-1,"y":-1.2},{"x":-0.92,"y":-1.2},{"x":-0.84,"y":-1.2},{"x":-0.76,"y":-1.2},{"x":-0.68,"y":-1.2},{"x":-0.6,"y":-1.2},{"x":-0.52,"y":-1.2},{"x":-0.44,"y":-1.2},{"x":-0.3,"y":-1.2},{"x":-0.12,"y":-1.2},{"x":-0.02,"y":-1.2},
{"x":-1.33,"y":-1.1},{"x":-1.25,"y":-1.1},{"x":-1.17,"y":-1.1},{"x":-1.09,"y":-1.1},{"x":-1.01,"y":-1.1},{"x":-0.93,"y":-1.1},{"x":-0.85,"y":-1.1},{"x":-0.77,"y":-1.1},{"x":-0.69,"y":-1.1},{"x":-0.61,"y":-1.1},{"x":-0.53,"y":-1.1},{"x":-0.45,"y":-1.1},{"x":-0.3,"y":-1.1},{"x":-0.2,"y":-1.1},{"x":-0.05,"y":-1.1},
{"x":-1.3,"y":-1},{"x":-1.22,"y":-1},{"x":-1.14,"y":-1},{"x":-1.06,"y":-1},{"x":-0.98,"y":-1},{"x":-0.9,"y":-1},{"x":-0.82,"y":-1},{"x":-0.74,"y":-1},{"x":-0.66,"y":-1},{"x":-0.58,"y":-1},{"x":-0.5,"y":-1},{"x":-0.4,"y":-1},{"x":-0.28,"y":-1},{"x":-0.12,"y":-1},{"x":0,"y":-1},
{"x":-1.3,"y":-0.9},{"x":-1.2,"y":-0.9},{"x":-1.12,"y":-0.9},{"x":-1.04,"y":-0.9},{"x":-0.96,"y":-0.9},{"x":-0.88,"y":-0.9},{"x":-0.8,"y":-0.9},{"x":-0.72,"y":-0.9},{"x":-0.64,"y":-0.9},{"x":-0.56,"y":-0.9},{"x":-0.46,"y":-0.9},{"x":-0.36,"y":-0.9},{"x":-0.24,"y":-0.9},{"x":-0.1,"y":-0.9},
{"x":-1.25,"y":-0.8},{"x":-1.12,"y":-0.8},{"x":-1,"y":-0.8},{"x":-0.92,"y":-0.8},{"x":-0.84,"y":-0.8},{"x":-0.76,"y":-0.8},{"x":-0.68,"y":-0.8},{"x":-0.6,"y":-0.8},{"x":-0.52,"y":-0.8},{"x":-0.44,"y":-0.8},{"x":-0.3,"y":-0.8},{"x":-0.18,"y":-0.8},{"x":-0.06,"y":-0.8},
{"x":-1.2,"y":-0.7},{"x":-1.08,"y":-0.7},{"x":-0.92,"y":-0.7},{"x":-0.84,"y":-0.7},{"x":-0.76,"y":-0.7},{"x":-0.68,"y":-0.7},{"x":-0.6,"y":-0.7},{"x":-0.5,"y":-0.7},{"x":-0.4,"y":-0.7},{"x":-0.3,"y":-0.7},{"x":-0.16,"y":-0.7},{"x":-0.06,"y":-0.7},{"x":0.02,"y":-0.7},
{"x":-0.92,"y":-0.6},{"x":-0.84,"y":-0.6},{"x":-0.76,"y":-0.6},{"x":-0.68,"y":-0.6},{"x":-0.6,"y":-0.6},{"x":-0.52,"y":-0.6},{"x":-0.44,"y":-0.6},{"x":-0.2,"y":-0.6},{"x":-0.12,"y":-0.6},{"x":-0.02,"y":-0.6},{"x":0.04,"y":-0.6},
{"x":-0.88,"y":-0.5},{"x":-0.8,"y":-0.5},{"x":-0.72,"y":-0.5},{"x":-0.64,"y":-0.5},{"x":-0.56,"y":-0.5},{"x":-0.46,"y":-0.5},{"x":-0.32,"y":-0.5},{"x":-0.18,"y":-0.5},{"x":-0.1,"y":-0.5},{"x":-0.02,"y":-0.5},
{"x":-0.88,"y":-0.4},{"x":-0.8,"y":-0.4},{"x":-0.72,"y":-0.4},{"x":-0.64,"y":-0.4},{"x":-0.54,"y":-0.4},{"x":-0.36,"y":-0.4},{"x":-0.2,"y":-0.4},{"x":-0.1,"y":-0.4},{"x":0,"y":-0.4},{"x":0.1,"y":-0.4},{"x":0.2,"y":-0.4},
{"x":-0.9,"y":-0.3},{"x":-0.82,"y":-0.3},{"x":-0.74,"y":-0.3},{"x":-0.66,"y":-0.3},{"x":-0.58,"y":-0.3},{"x":-0.4,"y":-0.3},{"x":-0.22,"y":-0.3},{"x":-0.12,"y":-0.3},{"x":-0.04,"y":-0.3},{"x":0.08,"y":-0.3},{"x":0.18,"y":-0.3},{"x":0.3,"y":-0.3},
{"x":-0.93,"y":-0.2},{"x":-0.85,"y":-0.2},{"x":-0.77,"y":-0.2},{"x":-0.69,"y":-0.2},{"x":-0.6,"y":-0.2},{"x":-0.42,"y":-0.2},{"x":-0.28,"y":-0.2},{"x":-0.2,"y":-0.2},{"x":-0.12,"y":-0.2},{"x":-0.04,"y":-0.2},{"x":0.04,"y":-0.2},{"x":0.12,"y":-0.2},{"x":0.22,"y":-0.2},{"x":0.32,"y":-0.2},{"x":0.42,"y":-0.2},{"x":0.52,"y":-0.2},{"x":0.66,"y":-0.2},{"x":0.78,"y":-0.2},
{"x":-0.95,"y":-0.1},{"x":-0.87,"y":-0.1},{"x":-0.79,"y":-0.1},{"x":-0.71,"y":-0.1},{"x":-0.63,"y":-0.1},{"x":-0.55,"y":-0.1},{"x":-0.44,"y":-0.1},{"x":-0.32,"y":-0.1},{"x":-0.24,"y":-0.1},{"x":-0.16,"y":-0.1},{"x":-0.08,"y":-0.1},{"x":0,"y":-0.1},{"x":0.08,"y":-0.1},{"x":0.16,"y":-0.1},{"x":0.24,"y":-0.1},{"x":0.32,"y":-0.1},{"x":0.4,"y":-0.1},{"x":0.48,"y":-0.1},{"x":0.56,"y":-0.1},{"x":0.64,"y":-0.1},{"x":0.72,"y":-0.1},{"x":0.8,"y":-0.1},{"x":0.9,"y":-0.1},{"x":1.05,"y":-0.1},
{"x":-0.95,"y":0},{"x":-0.87,"y":0},{"x":-0.79,"y":0},{"x":-0.71,"y":0},{"x":-0.63,"y":0},{"x":-0.55,"y":0},{"x":-0.47,"y":0},{"x":-0.39,"y":0},{"x":-0.31,"y":0},{"x":-0.23,"y":0},{"x":-0.15,"y":0},{"x":-0.07,"y":0},{"x":0.01,"y":0},{"x":0.09,"y":0},{"x":0.17,"y":0},{"x":0.25,"y":0},{"x":0.33,"y":0},{"x":0.41,"y":0},{"x":0.49,"y":0},{"x":0.57,"y":0},{"x":0.65,"y":0},{"x":0.73,"y":0},{"x":0.81,"y":0},{"x":0.89,"y":0},{"x":0.97,"y":0},{"x":1.08,"y":0},
{"x":-0.96,"y":0.1},{"x":-0.88,"y":0.1},{"x":-0.8,"y":0.1},{"x":-0.7,"y":0.1},{"x":-0.6,"y":0.1},{"x":-0.52,"y":0.1},{"x":-0.44,"y":0.1},{"x":-0.36,"y":0.1},{"x":-0.28,"y":0.1},{"x":-0.2,"y":0.1},{"x":-0.12,"y":0.1},{"x":-0.04,"y":0.1},{"x":0.04,"y":0.1},{"x":0.12,"y":0.1},{"x":0.2,"y":0.1},{"x":0.28,"y":0.1},{"x":0.36,"y":0.1},{"x":0.44,"y":0.1},{"x":0.52,"y":0.1},{"x":0.6,"y":0.1},{"x":0.68,"y":0.1},{"x":0.76,"y":0.1},{"x":0.84,"y":0.1},{"x":0.92,"y":0.1},{"x":1,"y":0.1},{"x":1.1,"y":0.1},
{"x":-0.9,"y":0.2},{"x":-0.8,"y":0.2},{"x":-0.62,"y":0.2},{"x":-0.5,"y":0.2},{"x":-0.42,"y":0.2},{"x":-0.34,"y":0.2},{"x":-0.26,"y":0.2},{"x":-0.18,"y":0.2},{"x":-0.1,"y":0.2},{"x":-0.02,"y":0.2},{"x":0.06,"y":0.2},{"x":0.14,"y":0.2},{"x":0.22,"y":0.2},{"x":0.3,"y":0.2},{"x":0.38,"y":0.2},{"x":0.46,"y":0.2},{"x":0.54,"y":0.2},{"x":0.62,"y":0.2},{"x":0.7,"y":0.2},{"x":0.78,"y":0.2},{"x":0.86,"y":0.2},{"x":0.94,"y":0.2},{"x":1.02,"y":0.2},
{"x":-0.85,"y":0.3},{"x":-0.72,"y":0.3},{"x":-0.4,"y":0.3},{"x":-0.32,"y":0.3},{"x":-0.24,"y":0.3},{"x":-0.16,"y":0.3},{"x":-0.08,"y":0.3},{"x":0,"y":0.3},{"x":0.08,"y":0.3},{"x":0.16,"y":0.3},{"x":0.24,"y":0.3},{"x":0.32,"y":0.3},{"x":0.4,"y":0.3},{"x":0.48,"y":0.3},{"x":0.56,"y":0.3},{"x":0.7,"y":0.3},{"x":0.85,"y":0.3},{"x":1,"y":0.3},{"x":1.1,"y":0.3},
{"x":-0.3,"y":0.4},{"x":-0.22,"y":0.4},{"x":-0.14,"y":0.4},{"x":-0.06,"y":0.4},{"x":0.02,"y":0.4},{"x":0.1,"y":0.4},{"x":0.18,"y":0.4},{"x":0.26,"y":0.4},{"x":0.34,"y":0.4},{"x":0.44,"y":0.4},{"x":0.6,"y":0.4},{"x":0.72,"y":0.4},{"x":0.8,"y":0.4},{"x":0.92,"y":0.4},{"x":1.05,"y":0.4},
{"x":-0.2,"y":0.5},{"x":-0.12,"y":0.5},{"x":-0.04,"y":0.5},{"x":0.04,"y":0.5},{"x":0.12,"y":0.5},{"x":0.2,"y":0.5},{"x":0.3,"y":0.5},{"x":0.42,"y":0.5},{"x":0.52,"y":0.5},{"x":0.64,"y":0.5},{"x":0.7,"y":0.5},{"x":0.76,"y":0.5},{"x":0.9,"y":0.5},{"x":1,"y":0.5},
{"x":-0.15,"y":0.6},{"x":-0.06,"y":0.6},{"x":0.02,"y":0.6},{"x":0.1,"y":0.6},{"x":0.2,"y":0.6},{"x":0.34,"y":0.6},{"x":0.46,"y":0.6},{"x":0.58,"y":0.6},{"x":0.64,"y":0.6},{"x":0.7,"y":0.6},{"x":0.78,"y":0.6},{"x":0.92,"y":0.6},{"x":1.1,"y":0.6},{"x":1.18,"y":0.6},
{"x":-0.12,"y":0.7},{"x":-0.04,"y":0.7},{"x":0.06,"y":0.7},{"x":0.14,"y":0.7},{"x":0.3,"y":0.7},{"x":0.44,"y":0.7},{"x":0.6,"y":0.7},{"x":0.66,"y":0.7},{"x":0.72,"y":0.7},{"x":0.82,"y":0.7},{"x":0.94,"y":0.7},{"x":1.14,"y":0.7},
{"x":-0.1,"y":0.8},{"x":-0.02,"y":0.8},{"x":0.06,"y":0.8},{"x":0.16,"y":0.8},{"x":0.36,"y":0.8},{"x":0.5,"y":0.8},{"x":0.62,"y":0.8},{"x":0.68,"y":0.8},{"x":0.76,"y":0.8},{"x":0.9,"y":0.8},{"x":1.02,"y":0.8},
{"x":-0.06,"y":0.9},{"x":0.02,"y":0.9},{"x":0.1,"y":0.9},{"x":0.18,"y":0.9},{"x":0.3,"y":0.9},{"x":0.42,"y":0.9},{"x":0.56,"y":0.9},{"x":0.7,"y":0.9},{"x":0.78,"y":0.9},{"x":0.84,"y":0.9},{"x":0.98,"y":0.9},{"x":1.06,"y":0.9},
{"x":-0.04,"y":1},{"x":0.02,"y":1},{"x":0.1,"y":1},{"x":0.2,"y":1},{"x":0.32,"y":1},{"x":0.4,"y":1},{"x":0.52,"y":1},{"x":0.66,"y":1},{"x":0.74,"y":1},{"x":0.82,"y":1},{"x":0.92,"y":1},{"x":1,"y":1},
{"x":-0.1,"y":1.1},{"x":0,"y":1.1},{"x":0.06,"y":1.1},{"x":0.12,"y":1.1},{"x":0.24,"y":1.1},{"x":0.36,"y":1.1},{"x":0.44,"y":1.1},{"x":0.6,"y":1.1},{"x":0.74,"y":1.1},{"x":0.82,"y":1.1},{"x":0.9,"y":1.1},
{"x":-0.2,"y":1.2},{"x":-0.16,"y":1.2},{"x":0,"y":1.2},{"x":0.24,"y":1.2},{"x":0.38,"y":1.2},{"x":0.46,"y":1.2},{"x":0.54,"y":1.2},{"x":0.66,"y":1.2},{"x":0.8,"y":1.2},{"x":0.92,"y":1.2},
{"x":-0.18,"y":1.3},{"x":0,"y":1.3},{"x":0.34,"y":1.3},{"x":0.5,"y":1.3},{"x":0.6,"y":1.3},{"x":0.72,"y":1.3},{"x":0.86,"y":1.3}]
},
"concat":[
{"width":49,"height":1,"data":{"values":[{}]},"mark":{"type":"text","text":"A)","fontSize":20,"dx":-11.5,"dy":-4.5},"encoding":{}},
{"width":308,"height":26,"title":{"text":"Dataset I","fontStyle":"italic","fontWeight":"normal","font":"Open Sans","fontSize":18,"offset":4,"color":"#222"},"data":{"values":[{"p":0,"t":0.57},{"p":1,"t":1},{"p":2,"t":1},{"p":3,"t":1},{"p":4,"t":0.42},{"p":5,"t":0.98},{"p":6,"t":0.1},{"p":7,"t":0.61},{"p":8,"t":0.3},{"p":9,"t":0.08},{"p":10,"t":0.14},{"p":11,"t":0.14},{"p":12,"t":0.23},{"p":13,"t":0.08},{"p":14,"t":0.19},{"p":15,"t":0.06},{"p":16,"t":0.16},{"p":17,"t":0.16},{"p":18,"t":0.12},{"p":19,"t":0.08},{"p":20,"t":0.14}]},"layer":[{"mark":"rect","encoding":{"x":{"field":"p","type":"ordinal","scale":{"padding":0},"axis":{"values":[0,5,10,15,20],"labelAngle":0,"labelFontSize":18.5,"labelPadding":13,"tickSize":-3,"title":"Distance from PAM, nt","titleFontSize":17.5,"titlePadding":4.5,"zindex":1}},"color":{"field":"t","type":"quantitative","legend":null,"scale":{"domain":[0,0.1,0.2,0.26,0.31,0.38,0.43,0.5,0.56,0.62,0.7,0.8,0.88,0.94,1],"range":["#26287a","#2f429b","#3b64af","#4a94d2","#35bdee","#6ccad6","#74c9b4","#98cc66","#c4d82e","#fff200","#fbb117","#f15a29","#ed1c24","#a81c20","#7a1214"]}}}},{"data":{"values":[{}]},"mark":{"type":"rect","fillOpacity":0,"stroke":"black","strokeWidth":1.5},"encoding":{}}]},
{"width":37,"height":1,"data":{"values":[{}]},"mark":{"type":"text","text":""},"encoding":{}},
{"width":48,"height":35,"data":{"values":[{}]},"mark":{"type":"rect","stroke":"black","strokeWidth":1,"fill":{"gradient":"linear","x1":0,"y1":1,"x2":0,"y2":0,"stops":[{"offset":0,"color":"#26287a"},{"offset":0.1,"color":"#2f429b"},{"offset":0.2,"color":"#3b64af"},{"offset":0.26,"color":"#4a94d2"},{"offset":0.31,"color":"#35bdee"},{"offset":0.38,"color":"#6ccad6"},{"offset":0.43,"color":"#74c9b4"},{"offset":0.5,"color":"#98cc66"},{"offset":0.56,"color":"#c4d82e"},{"offset":0.62,"color":"#fff200"},{"offset":0.7,"color":"#fbb117"},{"offset":0.8,"color":"#f15a29"},{"offset":0.88,"color":"#ed1c24"},{"offset":0.94,"color":"#a81c20"},{"offset":1,"color":"#7a1214"}]}},"encoding":{"x":{"datum":0,"type":"quantitative","scale":{"domain":[0,2.06],"nice":false},"axis":null},"x2":{"datum":1},"y":{"datum":-0.07,"type":"quantitative","scale":{"domain":[-0.07,1.18],"nice":false,"zero":false},"axis":{"orient":"right","offset":-25,"values":[0,1],"format":"d","labelFontSize":14,"tickSize":0,"labelPadding":3,"title":null}},"y2":{"datum":1.18}}},
{"width":37,"height":1,"data":{"values":[{}]},"mark":{"type":"text","text":""},"encoding":{}},
{"width":305,"height":26,"title":{"text":"Dataset II","fontStyle":"italic","fontWeight":"normal","font":"Open Sans","fontSize":18,"offset":4,"color":"#222"},"resolve":{"axis":{"x":"independent"}},"layer":[{"data":{"values":[{"a":-0.5,"b":0.5,"t":0.99},{"a":0.5,"b":1.5,"t":0.37},{"a":1.5,"b":2.5,"t":0.18},{"a":2.5,"b":3.5,"t":0.88},{"a":3.5,"b":4.5,"t":0.97},{"a":4.5,"b":5.5,"t":0.97},{"a":5.5,"b":6.5,"t":0.7},{"a":6.5,"b":7.5,"t":0.97},{"a":7.5,"b":8.5,"t":0.62},{"a":8.5,"b":9.5,"t":0.58},{"a":9.5,"b":10.5,"t":0.16},{"a":10.5,"b":11.5,"t":0.18},{"a":11.5,"b":12.5,"t":0.08},{"a":12.5,"b":13.5,"t":0.46},{"a":13.5,"b":14.5,"t":0.59},{"a":14.5,"b":15.5,"t":0.05},{"a":15.5,"b":16.5,"t":0.05},{"a":16.5,"b":17.5,"t":0.19},{"a":17.5,"b":18.5,"t":0.19},{"a":18.5,"b":19.5,"t":0.07},{"a":19.5,"b":20.5,"t":0.14}]},"mark":"rect","encoding":{"x":{"field":"a","type":"quantitative","scale":{"domain":[-0.2955,20.5],"nice":false,"zero":false},"axis":{"values":[0,5,10,15,20],"format":"d","labelFontSize":18.5,"labelPadding":13,"tickSize":-3,"title":"Distance from PAM, nt","titleFontSize":17.5,"titlePadding":4.5,"zindex":1}},"x2":{"field":"b"},"color":{"field":"t","type":"quantitative","legend":null,"scale":{"domain":[0,0.1,0.2,0.26,0.31,0.38,0.43,0.5,0.56,0.62,0.7,0.8,0.88,0.94,1],"range":["#26287a","#2f429b","#3b64af","#4a94d2","#35bdee","#6ccad6","#74c9b4","#98cc66","#c4d82e","#fff200","#fbb117","#f15a29","#ed1c24","#a81c20","#7a1214"]}}}},{"data":{"values":[{}]},"mark":{"type":"rect","fillOpacity":0,"stroke":"black","strokeWidth":1.5},"encoding":{"x":{"datum":-0.5,"type":"quantitative","scale":{"domain":[-0.2955,20.5],"nice":false,"zero":false},"axis":null},"x2":{"datum":20.5}}}]},

{"width":49,"height":1,"data":{"values":[{}]},"mark":{"type":"text","text":"B)","fontSize":20,"dx":-11.5,"dy":3.5},"encoding":{}},
{"width":308,"height":259,"layer":[{"data":{"name":"h1"},"transform":[{"filter":"datum.v!=null"}],"mark":"rect","encoding":{"x":{"field":"c","type":"nominal","scale":{"domain":["TT","AT","GT","CT","TA","AA","GA","CA","TG","AG","GG","CG","TC","AC","GC","CC"],"padding":0},"axis":{"labelAngle":0,"labelFontSize":10,"tickSize":-2,"labelPadding":7,"title":"Complementary DNA strand","titleFontSize":17.6,"titlePadding":9,"zindex":1}},"y":{"field":"r","type":"nominal","scale":{"domain":["AA","UA","CA","GA","AU","UU","CU","GU","AC","UC","CC","GC","AG","UG","CG","GG"],"padding":0},"axis":{"labelFontSize":10,"tickSize":-2,"labelPadding":10,"title":"CRISPR guide RNA","titleFontSize":18,"titlePadding":5,"zindex":1}},"color":{"field":"v","type":"quantitative","legend":null,"scale":{"domain":[-1,-0.5,0,0.3,0.55,0.9,1.15,1.5,1.8,2.1,2.5,3,3.4,3.7,4],"range":["#26287a","#2f429b","#3b64af","#4a94d2","#35bdee","#6ccad6","#74c9b4","#98cc66","#c4d82e","#fff200","#fbb117","#f15a29","#ed1c24","#a81c20","#7a1214"]}}}},{"data":{"name":"h1"},"transform":[{"filter":"datum.v==null"}],"mark":{"type":"rect","fill":"white","stroke":"black","strokeWidth":1.5},"encoding":{"x":{"field":"c","type":"nominal","scale":{"domain":["TT","AT","GT","CT","TA","AA","GA","CA","TG","AG","GG","CG","TC","AC","GC","CC"],"padding":0}},"y":{"field":"r","type":"nominal","scale":{"domain":["AA","UA","CA","GA","AU","UU","CU","GU","AC","UC","CC","GC","AG","UG","CG","GG"],"padding":0}}}},{"data":{"values":[{}]},"mark":{"type":"rect","fillOpacity":0,"stroke":"black","strokeWidth":1.5},"encoding":{}}]},
{"width":37,"height":1,"data":{"values":[{}]},"mark":{"type":"text","text":""},"encoding":{}},
{"width":48,"height":259,"layer":[{"data":{"values":[{}]},"mark":{"type":"rect","stroke":"black","strokeWidth":1,"fill":{"gradient":"linear","x1":0,"y1":1,"x2":0,"y2":0,"stops":[{"offset":0,"color":"#26287a"},{"offset":0.1,"color":"#2f429b"},{"offset":0.2,"color":"#3b64af"},{"offset":0.26,"color":"#4a94d2"},{"offset":0.31,"color":"#35bdee"},{"offset":0.38,"color":"#6ccad6"},{"offset":0.43,"color":"#74c9b4"},{"offset":0.5,"color":"#98cc66"},{"offset":0.56,"color":"#c4d82e"},{"offset":0.62,"color":"#fff200"},{"offset":0.7,"color":"#fbb117"},{"offset":0.8,"color":"#f15a29"},{"offset":0.88,"color":"#ed1c24"},{"offset":0.94,"color":"#a81c20"},{"offset":1,"color":"#7a1214"}]}},"encoding":{"x":{"datum":0,"type":"quantitative","scale":{"domain":[0,2.286],"nice":false},"axis":null},"x2":{"datum":1},"y":{"datum":-1,"type":"quantitative","scale":{"domain":[-1,4.33],"nice":false,"zero":false},"axis":{"orient":"right","offset":-27,"values":[-1,0,1,2,3,4],"labelFontSize":19,"tickSize":-3,"labelPadding":7,"title":null,"zindex":1}},"y2":{"datum":4}}},{"data":{"values":[{"x":0.43,"y":4.31,"t":"kcal/mol"}]},"mark":{"type":"text","fontSize":16,"baseline":"alphabetic"},"encoding":{"x":{"field":"x","type":"quantitative","scale":{"domain":[0,2.286],"nice":false},"axis":null},"y":{"field":"y","type":"quantitative","scale":{"domain":[-1,4.33],"nice":false,"zero":false},"axis":null},"text":{"field":"t"}}}]},
{"width":37,"height":1,"data":{"values":[{}]},"mark":{"type":"text","text":""},"encoding":{}},
{"width":308,"height":259,"layer":[{"data":{"name":"h2"},"transform":[{"filter":"datum.v!=null"}],"mark":"rect","encoding":{"x":{"field":"c","type":"nominal","scale":{"domain":["TT","AT","GT","CT","TA","AA","GA","CA","TG","AG","GG","CG","TC","AC","GC","CC"],"padding":0},"axis":{"labelAngle":0,"labelFontSize":10,"tickSize":-2,"labelPadding":7,"title":"Complementary DNA strand","titleFontSize":17.6,"titlePadding":9,"zindex":1}},"y":{"field":"r","type":"nominal","scale":{"domain":["AA","UA","CA","GA","AU","UU","CU","GU","AC","UC","CC","GC","AG","UG","CG","GG"],"padding":0},"axis":{"labelFontSize":10,"tickSize":-2,"labelPadding":10,"title":null,"zindex":1}},"color":{"field":"v","type":"quantitative","legend":null,"scale":{"domain":[-1,-0.5,0,0.3,0.55,0.9,1.15,1.5,1.8,2.1,2.5,3,3.4,3.7,4],"range":["#26287a","#2f429b","#3b64af","#4a94d2","#35bdee","#6ccad6","#74c9b4","#98cc66","#c4d82e","#fff200","#fbb117","#f15a29","#ed1c24","#a81c20","#7a1214"]}}}},{"data":{"name":"h2"},"transform":[{"filter":"datum.v==null"}],"mark":{"type":"rect","fill":"white","stroke":"black","strokeWidth":1.5},"encoding":{"x":{"field":"c","type":"nominal","scale":{"domain":["TT","AT","GT","CT","TA","AA","GA","CA","TG","AG","GG","CG","TC","AC","GC","CC"],"padding":0}},"y":{"field":"r","type":"nominal","scale":{"domain":["AA","UA","CA","GA","AU","UU","CU","GU","AC","UC","CC","GC","AG","UG","CG","GG"],"padding":0}}}},{"data":{"values":[{}]},"mark":{"type":"rect","fillOpacity":0,"stroke":"black","strokeWidth":1.5},"encoding":{}}]},

{"width":49,"height":1,"data":{"values":[{}]},"mark":{"type":"text","text":"C)","fontSize":20,"dx":-12.5,"dy":-25.5},"encoding":{}},
{"width":308,"height":295,"resolve":{"axis":{"x":"independent","y":"independent"}},"layer":[
{"data":{"name":"s1"},"mark":{"type":"point","filled":false,"stroke":"black","strokeWidth":1.2,"size":16,"opacity":1},"encoding":{"x":{"field":"x","type":"quantitative","scale":{"domain":[-0.822,3],"nice":false,"zero":false},"axis":{"values":[0,1,2,3],"labelFontSize":22,"tickSize":-3,"labelPadding":13,"title":null}},"y":{"field":"y","type":"quantitative","scale":{"domain":[-0.5,3],"nice":false,"zero":false},"axis":{"values":[0,1,2,3],"offset":-26,"labelFontSize":22,"tickSize":-3,"labelPadding":10,"title":null}}}},
{"data":{"name":"s1"},"transform":[{"filter":"datum.y<0.45 && datum.x<0.36 && datum.x>-0.12"}],"mark":{"type":"circle","fill":"black","size":24,"opacity":1},"encoding":{"x":{"field":"x","type":"quantitative","scale":{"domain":[-0.822,3],"nice":false,"zero":false},"axis":null},"y":{"field":"y","type":"quantitative","scale":{"domain":[-0.5,3],"nice":false,"zero":false},"axis":null}}},
{"data":{"values":[{"x":-0.728,"y":-1.129,"t":"Calculated\u00a0\u00a0ΔΔG"},{"x":2.05,"y":-1.129,"t":"[kcal/mol]"}]},"mark":{"type":"text","fontSize":17.5,"align":"left","baseline":"alphabetic"},"encoding":{"x":{"field":"x","type":"quantitative","scale":{"domain":[-0.822,3],"nice":false,"zero":false},"axis":{"orient":"top","values":[0,1,2,3],"labels":false,"tickSize":-3,"title":null}},"y":{"field":"y","type":"quantitative","scale":{"domain":[-0.5,3],"nice":false,"zero":false},"axis":{"orient":"right","values":[0,1,2,3],"labels":false,"tickSize":-3,"title":null}},"text":{"field":"t"}}},
{"data":{"values":[{"x":0.896,"y":-1.188,"t":"exchange"}]},"mark":{"type":"text","fontSize":18,"align":"left","baseline":"alphabetic"},"encoding":{"x":{"field":"x","type":"quantitative","scale":{"domain":[-0.822,3],"nice":false,"zero":false},"axis":null},"y":{"field":"y","type":"quantitative","scale":{"domain":[-0.5,3],"nice":false,"zero":false},"axis":null},"text":{"field":"t"}}},
{"data":{"values":[{"x":-0.951,"y":-0.44,"t":"Apparent ΔΔG"},{"x":-0.951,"y":2.074,"t":"[kcal/mol]"}]},"mark":{"type":"text","fontSize":17,"align":"left","baseline":"alphabetic","angle":270},"encoding":{"x":{"field":"x","type":"quantitative","scale":{"domain":[-0.822,3],"nice":false,"zero":false},"axis":null},"y":{"field":"y","type":"quantitative","scale":{"domain":[-0.5,3],"nice":false,"zero":false},"axis":null},"text":{"field":"t"}}},
{"data":{"values":[{"x":-0.87,"y":0.84,"t":"exchange"}]},"mark":{"type":"text","fontSize":19.5,"align":"left","baseline":"alphabetic","angle":270},"encoding":{"x":{"field":"x","type":"quantitative","scale":{"domain":[-0.822,3],"nice":false,"zero":false},"axis":null},"y":{"field":"y","type":"quantitative","scale":{"domain":[-0.5,3],"nice":false,"zero":false},"axis":null},"text":{"field":"t"}}},
{"data":{"values":[{}]},"mark":{"type":"rect","fillOpacity":0,"stroke":"black","strokeWidth":1.5},"encoding":{"x":{"datum":-0.5,"type":"quantitative","scale":{"domain":[-0.822,3],"nice":false,"zero":false},"axis":null},"x2":{"datum":3}}}]},
{"width":0,"height":0,"data":{"values":[{}]},"mark":{"type":"text","text":""},"encoding":{}},
{"width":0,"height":0,"data":{"values":[{}]},"mark":{"type":"text","text":""},"encoding":{}},
{"width":0,"height":0,"data":{"values":[{}]},"mark":{"type":"text","text":""},"encoding":{}},
{"width":299,"height":293,"resolve":{"axis":{"x":"independent","y":"independent"}},"layer":[
{"data":{"name":"s2"},"mark":{"type":"point","filled":false,"stroke":"black","strokeWidth":1.2,"size":16,"opacity":1},"encoding":{"x":{"field":"x","type":"quantitative","scale":{"domain":[-2.397,3],"nice":false,"zero":false},"axis":{"values":[-2,0,2],"labelFontSize":22,"tickSize":-3,"labelPadding":13,"title":null}},"y":{"field":"y","type":"quantitative","scale":{"domain":[-3,4.04],"nice":false,"zero":false},"axis":{"values":[-2,0,2,4],"offset":-22,"labelFontSize":22,"tickSize":-3,"labelPadding":10,"title":null}}}},
{"data":{"name":"s2"},"transform":[{"filter":"(datum.y<=0.25 && datum.y>=-0.25 && datum.x<0.9 && datum.x>-1) || (datum.y<-0.25 && datum.x<-0.5 && datum.y>-1.95 && datum.x>-1.4) || (datum.y<-0.25 && datum.x<-0.36 && datum.y>-1.85 && datum.y<-0.95)"}],"mark":{"type":"circle","fill":"black","size":32,"opacity":1},"encoding":{"x":{"field":"x","type":"quantitative","scale":{"domain":[-2.397,3],"nice":false,"zero":false},"axis":null},"y":{"field":"y","type":"quantitative","scale":{"domain":[-3,4.04],"nice":false,"zero":false},"axis":null}}},
{"data":{"values":[{"x":-2.433,"y":-4.25,"t":"Calculated\u00a0\u00a0ΔΔG"},{"x":1.628,"y":-4.25,"t":"[kcal/mol]"}]},"mark":{"type":"text","fontSize":17.5,"align":"left","baseline":"alphabetic"},"encoding":{"x":{"field":"x","type":"quantitative","scale":{"domain":[-2.397,3],"nice":false,"zero":false},"axis":{"orient":"top","values":[-2,0,2],"labels":false,"tickSize":-3,"title":null}},"y":{"field":"y","type":"quantitative","scale":{"domain":[-3,4.04],"nice":false,"zero":false},"axis":{"orient":"right","values":[-2,0,2,4],"labels":false,"tickSize":-3,"title":null}},"text":{"field":"t"}}},
{"data":{"values":[{"x":-0.087,"y":-4.37,"t":"exchange"}]},"mark":{"type":"text","fontSize":18,"align":"left","baseline":"alphabetic"},"encoding":{"x":{"field":"x","type":"quantitative","scale":{"domain":[-2.397,3],"nice":false,"zero":false},"axis":null},"y":{"field":"y","type":"quantitative","scale":{"domain":[-3,4.04],"nice":false,"zero":false},"axis":null},"text":{"field":"t"}}},
{"data":{"values":[{"x":-2.9,"y":-3,"t":"Apparent ΔΔG"},{"x":-2.9,"y":2.05,"t":"[kcal/mol]"}]},"mark":{"type":"text","fontSize":17,"align":"left","baseline":"alphabetic","angle":270},"encoding":{"x":{"field":"x","type":"quantitative","scale":{"domain":[-2.397,3],"nice":false,"zero":false},"axis":null},"y":{"field":"y","type":"quantitative","scale":{"domain":[-3,4.04],"nice":false,"zero":false},"axis":null},"text":{"field":"t"}}},
{"data":{"values":[{"x":-2.81,"y":-0.524,"t":"exchange"}]},"mark":{"type":"text","fontSize":19.5,"align":"left","baseline":"alphabetic","angle":270},"encoding":{"x":{"field":"x","type":"quantitative","scale":{"domain":[-2.397,3],"nice":false,"zero":false},"axis":null},"y":{"field":"y","type":"quantitative","scale":{"domain":[-3,4.04],"nice":false,"zero":false},"axis":null},"text":{"field":"t"}}},
{"data":{"values":[{}]},"mark":{"type":"rect","fillOpacity":0,"stroke":"black","strokeWidth":1.5},"encoding":{"x":{"datum":-2,"type":"quantitative","scale":{"domain":[-2.397,3],"nice":false,"zero":false},"axis":null},"x2":{"datum":3}}}]},

{"width":49,"height":198,"resolve":{"scale":{"fill":"independent","stroke":"independent"}},"encoding":{"x":{"field":"x","type":"quantitative","scale":{"domain":[-5.394,-3.361],"nice":false,"zero":false},"axis":null},"y":{"field":"y","type":"quantitative","scale":{"domain":[7.261,-0.954],"nice":false,"zero":false},"axis":null}},"layer":[
{"data":{"values":[{"x":-0.705,"y":5.725}]},"mark":{"type":"circle","size":676,"opacity":1,"stroke":"#2e3192","strokeWidth":1,"fill":{"gradient":"radial","x1":0.5,"y1":0.5,"r1":0,"x2":0.5,"y2":0.5,"r2":0.5,"stops":[{"offset":0,"color":"white"},{"offset":1,"color":"#5a64b0"}]}}},
{"data":{"values":[{"x":-1.245,"y":6.535}]},"mark":{"type":"circle","size":1600,"opacity":1,"stroke":"#2e3192","strokeWidth":1,"fill":{"gradient":"radial","x1":0.5,"y1":0.5,"r1":0,"x2":0.5,"y2":0.5,"r2":0.5,"stops":[{"offset":0,"color":"white"},{"offset":1,"color":"#5a64b0"}]}}},
{"data":{"values":[{"x":-1.689,"y":4.98}]},"mark":{"type":"circle","size":2916,"opacity":1,"stroke":"#2e3192","strokeWidth":1,"fill":{"gradient":"radial","x1":0.5,"y1":0.5,"r1":0,"x2":0.5,"y2":0.5,"r2":0.5,"stops":[{"offset":0,"color":"white"},{"offset":1,"color":"#5a64b0"}]}}},
{"data":{"values":[{"x":-5.062,"y":5.809,"y2":6.183},{"x":-4.813,"y":5.809,"y2":6.183},{"x":-4.564,"y":5.809,"y2":6.183},{"x":-3.734,"y":6.183,"y2":6.639},{"x":-3.527,"y":6.183,"y2":6.639},{"x":-3.32,"y":6.183,"y2":6.639},{"x":-3.112,"y":6.183,"y2":6.639},{"x":-2.905,"y":6.183,"y2":6.639},{"x":-2.697,"y":6.183,"y2":6.639},{"x":-2.49,"y":6.183,"y2":6.639},{"x":-0.083,"y":5.809,"y2":6.183}]},"mark":{"type":"rule","stroke":"black","strokeWidth":1.5},"encoding":{"y2":{"field":"y2"}}},
{"data":{"values":[{"x":-1.162,"y":5.809,"y2":6.183},{"x":-0.83,"y":5.809,"y2":6.183},{"x":-0.498,"y":5.809,"y2":6.183}]},"mark":{"type":"rule","stroke":"#6abd45","strokeWidth":3},"encoding":{"y2":{"field":"y2"}}},
{"data":{"values":[{"g":"a","o":0,"x":-3.456,"y":0.967},{"g":"a","o":1,"x":-2.075,"y":0.967},{"g":"a","o":2,"x":-1.203,"y":0},{"g":"a","o":3,"x":-0.444,"y":0},{"g":"b","o":0,"x":-3.456,"y":1.411},{"g":"b","o":1,"x":-2.075,"y":1.411},{"g":"b","o":2,"x":-1.203,"y":2.627},{"g":"b","o":3,"x":-0.444,"y":2.627},{"g":"c","o":0,"x":19.419,"y":-0.041},{"g":"c","o":1,"x":19.971,"y":1.108},{"g":"d","o":0,"x":23.64,"y":1.689},{"g":"d","o":1,"x":24.47,"y":1.689},{"g":"d","o":2,"x":25.365,"y":1.203},{"g":"d","o":3,"x":26.68,"y":1.203},{"g":"e","o":0,"x":23.64,"y":2.627},{"g":"e","o":1,"x":24.47,"y":2.627},{"g":"e","o":2,"x":25.365,"y":1.66},{"g":"e","o":3,"x":26.68,"y":1.66},{"g":"f","o":0,"x":-5.27,"y":5.809},{"g":"f","o":1,"x":-4.357,"y":5.809},{"g":"f","o":2,"x":-3.942,"y":5.299},{"g":"f","o":3,"x":-1.867,"y":5.299},{"g":"f","o":4,"x":-1.245,"y":5.809},{"g":"f","o":5,"x":0.485,"y":5.809},{"g":"h","o":0,"x":-5.27,"y":6.183},{"g":"h","o":1,"x":-4.357,"y":6.183},{"g":"h","o":2,"x":-3.871,"y":6.639},{"g":"h","o":3,"x":-1.797,"y":6.639},{"g":"h","o":4,"x":-1.245,"y":6.183},{"g":"h","o":5,"x":0.485,"y":6.183}]},"mark":{"type":"line","stroke":"black","strokeWidth":2.6,"strokeJoin":"round","interpolate":"linear"},"encoding":{"detail":{"field":"g"},"order":{"field":"o","type":"quantitative"}}},
{"data":{"values":[{"g":"a","o":0,"x":-4.494,"y":5.216},{"g":"a","o":1,"x":-4.286,"y":5.809},{"g":"a","o":2,"x":-4.025,"y":6.058},{"g":"a","o":3,"x":-2.282,"y":6.087},{"g":"a","o":4,"x":-2.075,"y":5.602},{"g":"a","o":5,"x":-2.004,"y":5.104},{"g":"a","o":6,"x":-1.589,"y":5.05},{"g":"a","o":7,"x":-1.245,"y":5.104},{"g":"b","o":0,"x":-1.589,"y":5.05},{"g":"b","o":1,"x":-1.743,"y":4.689},{"g":"b","o":2,"x":-1.245,"y":4.025}]},"mark":{"type":"line","stroke":"#c8a06e","strokeWidth":1.8},"encoding":{"detail":{"field":"g"},"order":{"field":"o","type":"quantitative"}}},
{"data":{"values":[{"x":-1.079,"y":5.27},{"x":-1.037,"y":4.108}]},"mark":{"type":"point","filled":false,"stroke":"#c8a06e","strokeWidth":1.8,"size":70,"opacity":1}},
{"data":{"values":[{"x":0,"y":0,"t":"C"},{"x":1,"y":0,"t":"A"},{"x":2,"y":0,"t":"T"},{"x":3,"y":0,"t":"T"},{"x":4,"y":0,"t":"A"},{"x":5,"y":0,"t":"G"},{"x":6,"y":0,"t":"T"},{"x":7,"y":0,"t":"A"},{"x":8,"y":0,"t":"A"},{"x":9,"y":0,"t":"C"},{"x":10,"y":0,"t":"C"},{"x":11,"y":0,"t":"T"},{"x":12,"y":0,"t":"T"},{"x":13,"y":0,"t":"A"},{"x":14,"y":0,"t":"A"},{"x":15,"y":0,"t":"C"},{"x":16,"y":0,"t":"T"},{"x":17,"y":0,"t":"A"},{"x":18,"y":0,"t":"G"},{"x":19,"y":0,"t":"C"},{"x":0,"y":2.697,"t":"G"},{"x":1,"y":2.697,"t":"T"},{"x":2,"y":2.697,"t":"A"},{"x":3,"y":2.697,"t":"A"},{"x":4,"y":2.697,"t":"T"},{"x":5,"y":2.697,"t":"C"},{"x":6,"y":2.697,"t":"A"},{"x":7,"y":2.697,"t":"T"},{"x":8,"y":2.697,"t":"T"},{"x":9,"y":2.697,"t":"G"},{"x":10,"y":2.697,"t":"G"},{"x":11,"y":2.697,"t":"A"},{"x":12,"y":2.697,"t":"A"},{"x":13,"y":2.697,"t":"T"},{"x":14,"y":2.697,"t":"T"},{"x":15,"y":2.697,"t":"G"},{"x":16,"y":2.697,"t":"A"},{"x":17,"y":2.697,"t":"T"},{"x":18,"y":2.697,"t":"C"},{"x":19,"y":2.697,"t":"G"}]},"mark":{"type":"text","font":"DejaVu Serif","fontSize":15,"fill":"#555"},"encoding":{"text":{"field":"t"}}},
{"data":{"values":[{"x":0,"y":1.743,"t":"C","k":"g"},{"x":1,"y":1.743,"t":"A","k":"g"},{"x":2,"y":1.743,"t":"C","k":"g"},{"x":3,"y":1.743,"t":"U","k":"g"},{"x":4,"y":1.743,"t":"A","k":"g"},{"x":5,"y":1.743,"t":"G","k":"g"},{"x":6,"y":1.743,"t":"U","k":"g"},{"x":7,"y":1.743,"t":"C","k":"g"},{"x":8,"y":1.743,"t":"U","k":"g"},{"x":9,"y":1.743,"t":"C","k":"g"},{"x":10,"y":1.743,"t":"C","k":"g"},{"x":11,"y":1.743,"t":"U","k":"g"},{"x":12,"y":1.743,"t":"U","k":"g"},{"x":13,"y":1.743,"t":"A","k":"g"},{"x":14,"y":1.743,"t":"A","k":"g"},{"x":15,"y":1.743,"t":"C","k":"g"},{"x":16,"y":1.743,"t":"T","k":"g"},{"x":17,"y":1.743,"t":"A","k":"g"},{"x":18,"y":1.743,"t":"C","k":"g"},{"x":19,"y":1.743,"t":"C","k":"g"},{"x":20,"y":1.743,"t":"C","k":"p"},{"x":21,"y":1.743,"t":"G","k":"p"},{"x":22,"y":1.743,"t":"G","k":"p"},{"x":23,"y":1.743,"t":"A","k":"p"},{"x":20,"y":2.697,"t":"G","k":"p"},{"x":21,"y":2.697,"t":"C","k":"p"},{"x":22,"y":2.697,"t":"C","k":"p"},{"x":23,"y":2.697,"t":"T","k":"p"}]},"mark":{"type":"text","font":"DejaVu Serif","fontSize":15,"fontWeight":"bold"},"encoding":{"text":{"field":"t"},"fill":{"field":"k","type":"nominal","legend":null,"scale":{"domain":["g","p"],"range":["#c8a06e","#6abd45"]}}}},
{"data":{"values":[{"x":0.5,"x2":2.5,"y":1.203,"y2":3.651,"k":"r"},{"x":6.5,"x2":8.5,"y":1.203,"y2":3.651,"k":"r"},{"x":16.5,"x2":18.5,"y":1.203,"y2":3.651,"k":"r"},{"x":1.5,"x2":3.5,"y":0.747,"y2":3.237,"k":"b"},{"x":7.5,"x2":9.5,"y":0.747,"y2":3.237,"k":"b"},{"x":17.5,"x2":19.5,"y":0.747,"y2":3.237,"k":"b"},{"x":20.5,"x2":23.35,"y":1.162,"y2":3.154,"k":"g"}]},"mark":{"type":"rect","fillOpacity":0,"strokeWidth":1.8},"encoding":{"x2":{"field":"x2"},"y2":{"field":"y2"},"stroke":{"field":"k","type":"nominal","legend":null,"scale":{"domain":["r","b","g"],"range":["#ed2224","#3953a4","#0b6b3a"]}}}},
{"data":{"values":[{"x":1.52,"y":4.35,"t":"0.17","k":"r"},{"x":3.46,"y":4.03,"t":"0.21","k":"b"},{"x":7.62,"y":4.35,"t":"0.36","k":"r"},{"x":9.45,"y":4.03,"t":"0.35","k":"b"},{"x":17.41,"y":4.35,"t":"2.27","k":"r"},{"x":19.36,"y":4.03,"t":"2.26","k":"b"},{"x":22.03,"y":4.03,"t":"–9.8","k":"g"}]},"mark":{"type":"text","fontSize":17.5,"fontWeight":"bold"},"encoding":{"text":{"field":"t"},"fill":{"field":"k","type":"nominal","legend":null,"scale":{"domain":["r","b","g"],"range":["#ed2224","#3953a4","#6abd45"]}}}},
{"data":{"values":[{"x":1.867,"y":6.18,"t":"ΔΔG"},{"x":6.846,"y":6.18,"t":"= 5.62 kcal/mol"},{"x":15.73,"y":6.18,"t":"ΔG"},{"x":18.49,"y":6.18,"t":"= –9.8 kcal/mol"}]},"mark":{"type":"text","fontSize":17.5,"align":"left","baseline":"alphabetic"},"encoding":{"text":{"field":"t"}}},
{"data":{"values":[{"x":3.4,"y":6.43,"t":"exchange"},{"x":16.79,"y":6.43,"t":"PAM"}]},"mark":{"type":"text","fontSize":18,"align":"left","baseline":"alphabetic"},"encoding":{"text":{"field":"t"}}},
{"data":{"values":[{"x":-4.85,"y":0.373,"t":"D)"}]},"mark":{"type":"text","fontSize":20},"encoding":{"text":{"field":"t"}}}
]},
{"width":0,"height":0,"data":{"values":[{}]},"mark":{"type":"text","text":""},"encoding":{}},
{"width":0,"height":0,"data":{"values":[{}]},"mark":{"type":"text","text":""},"encoding":{}},
{"width":0,"height":0,"data":{"values":[{}]},"mark":{"type":"text","text":""},"encoding":{}},
{"width":0,"height":0,"data":{"values":[{}]},"mark":{"type":"text","text":""},"encoding":{}},
{"width":0,"height":0,"data":{"values":[{}]},"mark":{"type":"text","text":""},"encoding":{}}
]}
